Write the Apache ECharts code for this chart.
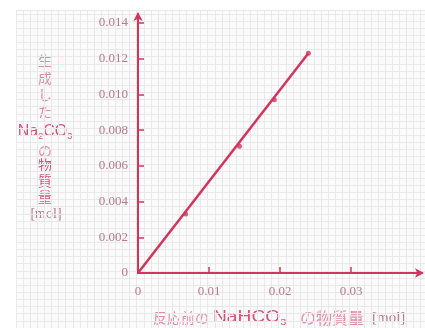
<!DOCTYPE html>
<html>
<head>
<meta charset="utf-8">
<script src="https://cdn.jsdelivr.net/npm/echarts@6/dist/echarts.min.js"></script>
<style>
  html, body { margin: 0; padding: 0; background: #ffffff; }
  #chart { width: 425px; height: 328px; }
</style>
</head>
<body>
<div id="chart"></div>
<script>
// NaHCO3 before heating (mol) vs Na2CO3 produced (mol)
const nahco3Amount = [0, 0.0067, 0.0143, 0.0192, 0.0240];
const na2co3Amount = [0, 0.0033, 0.0071, 0.0097, 0.0123];
const yTickValues = [0, 0.002, 0.004, 0.006, 0.008, 0.010, 0.012, 0.014];
const xTickValues = [0, 0.01, 0.02, 0.03];

const lineColor = '#d3345c';
const labelColor = '#b57a8b';
const nameLight = '#e489a3';
const nameDark = '#d8507a';

const points = nahco3Amount.map((x, i) => [x, na2co3Amount[i]]);

const chart = echarts.init(document.getElementById('chart'), null, { renderer: 'canvas' });

const cjk = '"Noto Sans CJK JP"';

const option = {
  backgroundColor: '#ffffff',
  animation: false,
  grid: [
    // graph-paper backdrop
    { left: 16, top: 10, right: 0, bottom: 0, show: true, backgroundColor: '#fbfbfb', borderWidth: 0 },
    // plotting area
    { left: 138, top: 14, right: 3, bottom: 55 }
  ],
  xAxis: [
    {
      gridIndex: 0, type: 'value', min: 0, max: 409, interval: 7.1,
      axisLine: { show: false }, axisTick: { show: false }, axisLabel: { show: false },
      splitLine: { show: true, lineStyle: { color: '#e9e9e9', width: 1 } }
    },
    {
      gridIndex: 1, type: 'value', min: 0, max: 0.04,
      axisLine: { show: true, onZero: false, lineStyle: { color: lineColor, width: 2 },
        symbol: ['none', 'arrow'], symbolSize: [7, 9], symbolOffset: [0, 2] },
      axisTick: { show: true, inside: true, length: 6, lineStyle: { color: lineColor, width: 1.5 },
        customValues: [0.01, 0.02, 0.03] },
      axisLabel: { show: true, customValues: xTickValues, margin: 12,
        fontFamily: 'Liberation Serif', fontSize: 13, color: labelColor,
        formatter: v => v === 0 ? '0' : v.toFixed(2) },
      splitLine: { show: false }
    }
  ],
  yAxis: [
    {
      gridIndex: 0, type: 'value', min: 0, max: 318, interval: 7.14,
      axisLine: { show: false }, axisTick: { show: false }, axisLabel: { show: false },
      splitLine: { show: true, lineStyle: { color: '#e9e9e9', width: 1 } }
    },
    {
      gridIndex: 1, type: 'value', min: 0, max: 0.0145,
      axisLine: { show: true, onZero: false, lineStyle: { color: lineColor, width: 2 },
        symbol: ['none', 'arrow'], symbolSize: [7, 9], symbolOffset: [0, 2] },
      axisTick: { show: true, inside: true, length: 6, lineStyle: { color: lineColor, width: 1.5 },
        customValues: yTickValues.slice(1) },
      axisLabel: { show: true, customValues: yTickValues, margin: 10,
        fontFamily: 'Liberation Serif', fontSize: 13, color: labelColor,
        formatter: v => v === 0 ? '0' : v.toFixed(3) },
      splitLine: { show: false }
    }
  ],
  series: [
    {
      type: 'line',
      xAxisIndex: 1, yAxisIndex: 1,
      data: [points[0], points[points.length - 1]],
      showSymbol: false,
      lineStyle: { color: lineColor, width: 2.5 },
      z: 3
    },
    {
      type: 'scatter',
      xAxisIndex: 1, yAxisIndex: 1,
      data: points.slice(1),
      symbol: 'circle',
      symbolSize: 5,
      itemStyle: { color: lineColor },
      z: 4
    }
  ],
  graphic: [
    // y-axis title, stacked vertically
    {
      type: 'text', x: 45, y: 52,
      style: { text: '生\n成\nし\nた', fill: nameLight, font: '14px ' + cjk, lineHeight: 17, align: 'center' }
    },
    {
      type: 'text', x: 45, y: 132,
      style: {
        text: '{n|Na}{s|2}{n|CO}{s|3}', align: 'center', verticalAlign: 'middle',
        rich: {
          n: { fill: nameDark, fontFamily: 'Liberation Sans', fontSize: 16 },
          s: { fill: nameDark, fontFamily: 'Liberation Sans', fontSize: 9, padding: [10, 0, 0, 0] }
        }
      }
    },
    {
      type: 'text', x: 45, y: 142,
      style: { text: 'の', fill: nameLight, font: '14px ' + cjk, lineHeight: 17, align: 'center' }
    },
    {
      type: 'text', x: 45, y: 157,
      style: { text: '物\n質\n量', fill: nameDark, font: '14px ' + cjk, lineHeight: 16, align: 'center' }
    },
    {
      type: 'text', x: 46, y: 214,
      style: { text: '[mol]', fill: labelColor, font: '14px "Liberation Serif"', align: 'center', verticalAlign: 'middle' }
    },
    // x-axis title
    {
      type: 'text', x: 153, y: 318,
      style: { text: '反応前の', fill: nameLight, font: '14px ' + cjk, verticalAlign: 'middle' }
    },
    {
      type: 'text', x: 213, y: 318, scaleX: 1.2,
      style: {
        text: '{n|NaHCO}{s|3}', verticalAlign: 'middle',
        rich: {
          n: { fill: nameDark, fontFamily: 'Liberation Sans', fontSize: 16 },
          s: { fill: nameDark, fontFamily: 'Liberation Sans', fontSize: 9, padding: [9, 0, 0, 0] }
        }
      }
    },
    {
      type: 'text', x: 300, y: 318,
      style: { text: 'の物質量', fill: nameLight, font: '16px ' + cjk, verticalAlign: 'middle' }
    },
    {
      type: 'text', x: 372, y: 318,
      style: { text: '[mol]', fill: labelColor, font: '15px "Liberation Serif"', verticalAlign: 'middle' }
    }
  ]
};

chart.setOption(option);
</script>
</body>
</html>
